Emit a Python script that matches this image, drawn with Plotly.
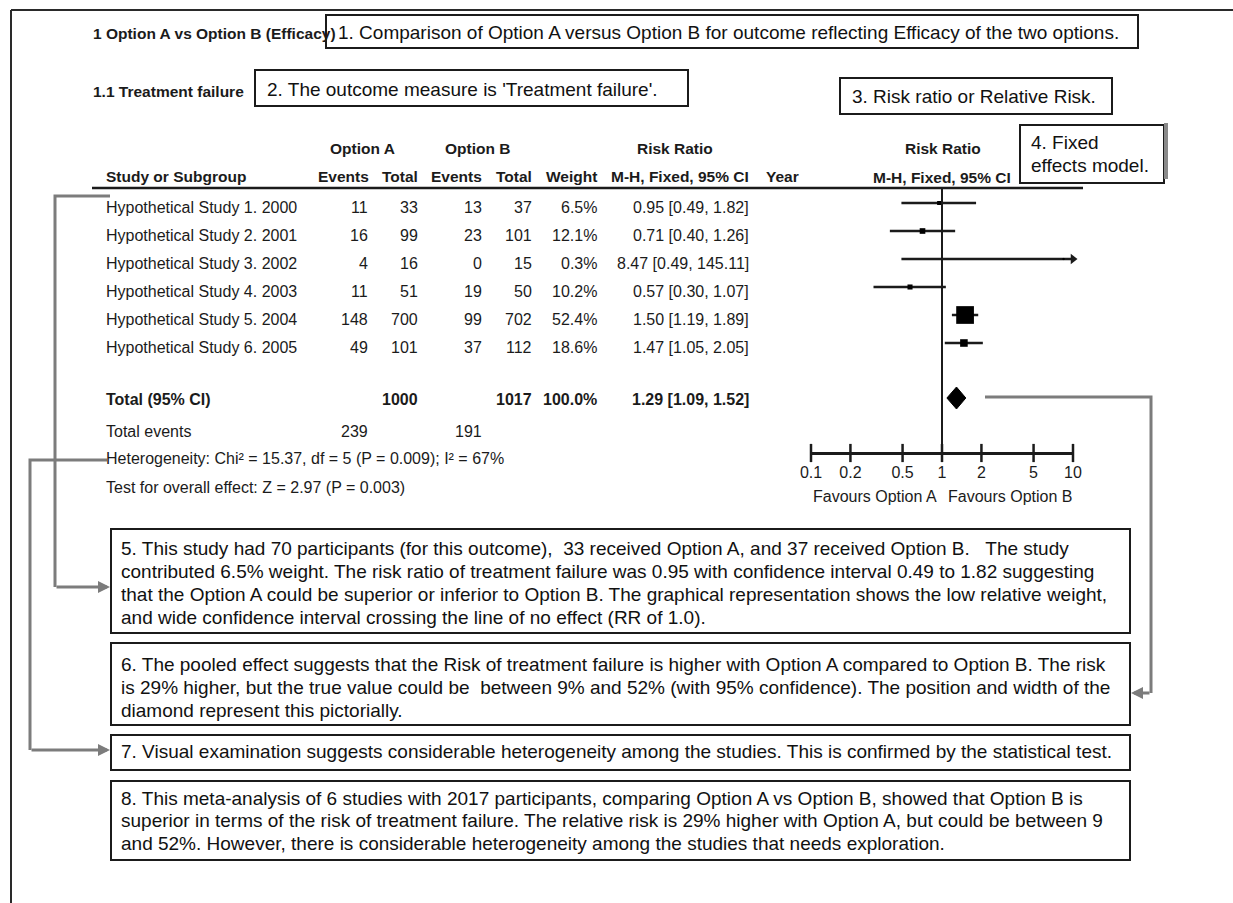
import plotly.graph_objects as go

W, H = 1233, 903

# ---- data -------------------------------------------------------------
studies = [
    "Hypothetical Study 1. 2000",
    "Hypothetical Study 2. 2001",
    "Hypothetical Study 3. 2002",
    "Hypothetical Study 4. 2003",
    "Hypothetical Study 5. 2004",
    "Hypothetical Study 6. 2005",
]
events_a = [11, 16, 4, 11, 148, 49]
total_a = [33, 99, 16, 51, 700, 101]
events_b = [13, 23, 0, 19, 99, 37]
total_b = [37, 101, 15, 50, 702, 112]
weight = [6.5, 12.1, 0.3, 10.2, 52.4, 18.6]
rr = [0.95, 0.71, 8.47, 0.57, 1.50, 1.47]
ci_low = [0.49, 0.40, 0.49, 0.30, 1.19, 1.05]
ci_high = [1.82, 1.26, 145.11, 1.07, 1.89, 2.05]

pooled_rr = 1.29
pooled_low = 1.09
pooled_high = 1.52
pooled_weight = 100.0
sum_total_a = 1000
sum_total_b = 1017
sum_events_a = 239
sum_events_b = 191

tick_vals = [0.1, 0.2, 0.5, 1, 2, 5, 10]
tick_text = ["0.1", "0.2", "0.5", "1", "2", "5", "10"]
axis_min, axis_max = 0.1, 10

heterogeneity = "Heterogeneity: Chi² = 15.37, df = 5 (P = 0.009); I² = 67%"
overall_test = "Test for overall effect: Z = 2.97 (P = 0.003)"

note_1 = ["1. Comparison of Option A versus Option B for outcome reflecting Efficacy of the two options."]
note_2 = ["2. The outcome measure is 'Treatment failure'."]
note_3 = ["3. Risk ratio or Relative Risk."]
note_4 = ["4. Fixed", "effects model."]
note_5 = [
    "5. This study had 70 participants (for this outcome),\u00a0 33 received Option A, and 37 received Option B.\u00a0\u00a0 The study",
    "contributed 6.5% weight. The risk ratio of treatment failure was 0.95 with confidence interval 0.49 to 1.82 suggesting",
    "that the Option A could be superior or inferior to Option B. The graphical representation shows the low relative weight,",
    "and wide confidence interval crossing the line of no effect (RR of 1.0).",
]
note_6 = [
    "6. The pooled effect suggests that the Risk of treatment failure is higher with Option A compared to Option B. The risk",
    "is 29% higher, but the true value could be\u00a0 between 9% and 52% (with 95% confidence). The position and width of the",
    "diamond represent this pictorially.",
]
note_7 = ["7. Visual examination suggests considerable heterogeneity among the studies. This is confirmed by the statistical test."]
note_8 = [
    "8. This meta-analysis of 6 studies with 2017 participants, comparing Option A vs Option B, showed that Option B is",
    "superior in terms of the risk of treatment failure. The relative risk is 29% higher with Option A, but could be between 9",
    "and 52%. However, there is considerable heterogeneity among the studies that needs exploration.",
]

# ---- styling ----------------------------------------------------------
SANS = "Liberation Sans, Arial, Helvetica, sans-serif"
INK = "#1b1b1b"
GREY = "#7c7c7c"
TABLE_SIZE = 16
HEAD_SIZE = 15.5
NOTE_SIZE = 19
NOTE_LEAD = 23

row_y = [207 + 28 * i for i in range(len(studies))]
forest_y = [y - 4 for y in row_y]
total_y, events_y, het_y, test_y = 399, 431, 458, 487
axis_y = 453
header_line_y = 188

col_right = {"ea": 369, "ta": 419, "eb": 483, "tb": 533, "w": 598, "ci": 750}

annotations = []
shapes = []


def text(x, y, s, anchor="left", size=TABLE_SIZE, bold=False, color=INK):
    if bold:
        s = "<b>" + s + "</b>"
    annotations.append(dict(
        x=x, y=y, xref="x", yref="y", text=s, showarrow=False,
        xanchor=anchor, yanchor="middle", align="left", borderpad=0,
        font=dict(family=SANS, size=size, color=color),
    ))


def box(x0, y0, x1, y1, width=2, color=INK):
    shapes.append(dict(type="rect", xref="x", yref="y", x0=x0, y0=y0, x1=x1, y1=y1,
                       line=dict(color=color, width=width), fillcolor="rgba(0,0,0,0)"))


def line(x0, y0, x1, y1, width=2, color=INK):
    shapes.append(dict(type="line", xref="x", yref="y", x0=x0, y0=y0, x1=x1, y1=y1,
                       line=dict(color=color, width=width)))


def note(x, y_first, lines, size=NOTE_SIZE, lead=NOTE_LEAD):
    for k, s in enumerate(lines):
        text(x, y_first + k * lead, s, size=size, color="#111111")


def arrow(x_from, y_from, x_to, y_to):
    annotations.append(dict(
        x=x_to, y=y_to, ax=x_from, ay=y_from, xref="x", yref="y", axref="x", ayref="y",
        text="", showarrow=True, arrowhead=2, arrowsize=0.8, arrowwidth=3,
        arrowcolor=GREY, standoff=0,
    ))


# ---- outer frame -------------------------------------------------------
line(11, 10, W, 10, width=2, color="#2a2a2a")
line(11, 10, 11, H, width=2, color="#2a2a2a")

# ---- titles and numbered notes in the header ---------------------------
text(92, 33, "1 Option A vs Option B (Efficacy)", size=HEAD_SIZE, bold=True)
box(326, 15, 1138, 48)
note(337, 32, note_1)

text(92, 91, "1.1 Treatment failure", size=HEAD_SIZE, bold=True)
box(255, 70, 688, 106)
note(266, 89, note_2)

box(840, 78, 1112, 114)
note(851, 96, note_3)

box(1020, 125, 1164, 183)
line(1166, 123, 1166, 179, width=4, color="#8a8a8a")
note(1030, 142, note_4)

# ---- table header -----------------------------------------------------
text(362, 148, "Option A", "center", size=HEAD_SIZE, bold=True)
text(477, 148, "Option B", "center", size=HEAD_SIZE, bold=True)
text(675, 148, "Risk Ratio", "center", size=HEAD_SIZE, bold=True)
text(943, 148, "Risk Ratio", "center", size=HEAD_SIZE, bold=True)

text(105, 176, "Study or Subgroup", size=HEAD_SIZE, bold=True)
text(col_right["ea"] + 1, 176, "Events", "right", size=HEAD_SIZE, bold=True)
text(col_right["ta"], 176, "Total", "right", size=HEAD_SIZE, bold=True)
text(col_right["eb"], 176, "Events", "right", size=HEAD_SIZE, bold=True)
text(col_right["tb"], 176, "Total", "right", size=HEAD_SIZE, bold=True)
text(col_right["w"], 176, "Weight", "right", size=HEAD_SIZE, bold=True)
text(col_right["ci"], 176, "M-H, Fixed, 95% CI", "right", size=HEAD_SIZE, bold=True)
text(765, 176, "Year", size=HEAD_SIZE, bold=True)
text(942, 177, "M-H, Fixed, 95% CI", "center", size=HEAD_SIZE, bold=True)

line(92, header_line_y, 1083, header_line_y, width=2.5)

# ---- study rows ---------------------------------------------------------
for i, name in enumerate(studies):
    y = row_y[i]
    text(105, y, name)
    text(col_right["ea"], y, str(events_a[i]), "right")
    text(col_right["ta"], y, str(total_a[i]), "right")
    text(col_right["eb"], y, str(events_b[i]), "right")
    text(col_right["tb"], y, str(total_b[i]), "right")
    text(col_right["w"], y, f"{weight[i]:.1f}%", "right")
    text(col_right["ci"], y, f"{rr[i]:.2f} [{ci_low[i]:.2f}, {ci_high[i]:.2f}]", "right")

text(105, total_y, "Total (95% CI)", bold=True)
text(col_right["ta"], total_y, str(sum_total_a), "right", bold=True)
text(col_right["tb"], total_y, str(sum_total_b), "right", bold=True)
text(col_right["w"], total_y, f"{pooled_weight:.1f}%", "right", bold=True)
text(col_right["ci"], total_y, f"{pooled_rr:.2f} [{pooled_low:.2f}, {pooled_high:.2f}]", "right", bold=True)

text(105, events_y, "Total events")
text(col_right["ea"], events_y, str(sum_events_a), "right")
text(col_right["eb"], events_y, str(sum_events_b), "right")
text(105, het_y, heterogeneity)
text(105, test_y, overall_test)

# ---- forest plot --------------------------------------------------------
fig = go.Figure()

# line of no effect
fig.add_trace(go.Scatter(x=[1, 1], y=[header_line_y, axis_y], xaxis="x2", yaxis="y",
                         mode="lines", line=dict(color=INK, width=2), hoverinfo="skip"))

# confidence intervals
for i in range(len(studies)):
    hi = min(ci_high[i], axis_max)
    fig.add_trace(go.Scatter(x=[max(ci_low[i], axis_min), hi], y=[forest_y[i]] * 2,
                             xaxis="x2", yaxis="y", mode="lines",
                             line=dict(color=INK, width=2.5), hoverinfo="skip"))
    if ci_high[i] > axis_max:
        fig.add_trace(go.Scatter(x=[axis_max], y=[forest_y[i]], xaxis="x2", yaxis="y",
                                 mode="markers", cliponaxis=False,
                                 marker=dict(symbol="triangle-right", size=9, color=INK),
                                 hoverinfo="skip"))

# point estimates, square size scaled by weight
fig.add_trace(go.Scatter(
    x=rr, y=forest_y, xaxis="x2", yaxis="y", mode="markers", cliponaxis=False,
    marker=dict(symbol="square", color="#000000", opacity=1,
                size=[2 + 0.3 * w for w in weight], line=dict(width=0)),
    hoverinfo="skip"))

# pooled estimate diamond
half_h = 11
dy = total_y - 1
fig.add_trace(go.Scatter(
    x=[pooled_low, pooled_rr, pooled_high, pooled_rr, pooled_low],
    y=[dy, dy - half_h, dy, dy + half_h, dy],
    xaxis="x2", yaxis="y", mode="lines", fill="toself", fillcolor="#000000",
    line=dict(color="#000000", width=1), hoverinfo="skip"))

# tick marks crossing the scale line
fig.add_trace(go.Scatter(
    x=tick_vals, y=[axis_y] * len(tick_vals), xaxis="x2", yaxis="y", mode="markers",
    cliponaxis=False,
    marker=dict(symbol="line-ns", size=13, line=dict(color=INK, width=2.5)),
    hoverinfo="skip"))

text(875, 496, "Favours Option A", "center")
text(1010, 496, "Favours Option B", "center")

# ---- numbered explanation boxes -----------------------------------------
box(111, 529, 1130, 633)
note(120, 548, note_5)
box(111, 643, 1130, 725)
note(120, 664, note_6)
box(111, 735, 1130, 770)
note(120, 751, note_7)
box(111, 781, 1130, 860)
note(120, 798, note_8, lead=22.5)

# ---- connectors ----------------------------------------------------------
conn = dict(type="path", xref="x", yref="y", line=dict(color=GREY, width=3))
shapes.append(dict(conn, path="M 110 196 L 55 196 L 55 587"))
arrow(55, 587, 110, 587)
shapes.append(dict(conn, path="M 107 460 L 30 460 L 30 750"))
arrow(30, 750, 110, 750)
shapes.append(dict(conn, path="M 985 397 L 1151 397 L 1151 693"))
arrow(1151, 693, 1131, 693)

fig.update_layout(
    width=W, height=H,
    margin=dict(l=0, r=0, t=0, b=0, pad=0, autoexpand=False),
    paper_bgcolor="white", plot_bgcolor="rgba(0,0,0,0)",
    showlegend=False, hovermode=False,
    xaxis=dict(range=[0, W], domain=[0, 1], visible=False, fixedrange=True),
    yaxis=dict(range=[H, 0], domain=[0, 1], visible=False, fixedrange=True),
    xaxis2=dict(
        type="log", range=[-1, 1], domain=[811 / W, 1073 / W],
        anchor="free", position=1 - axis_y / H,
        showline=True, linecolor=INK, linewidth=2.5,
        showgrid=False, zeroline=False, ticks="",
        tickvals=tick_vals, ticktext=tick_text, ticklabelstandoff=4,
        tickfont=dict(family=SANS, size=TABLE_SIZE, color=INK), fixedrange=True,
    ),
    annotations=annotations,
    shapes=shapes,
)

fig.write_html("out.html")
